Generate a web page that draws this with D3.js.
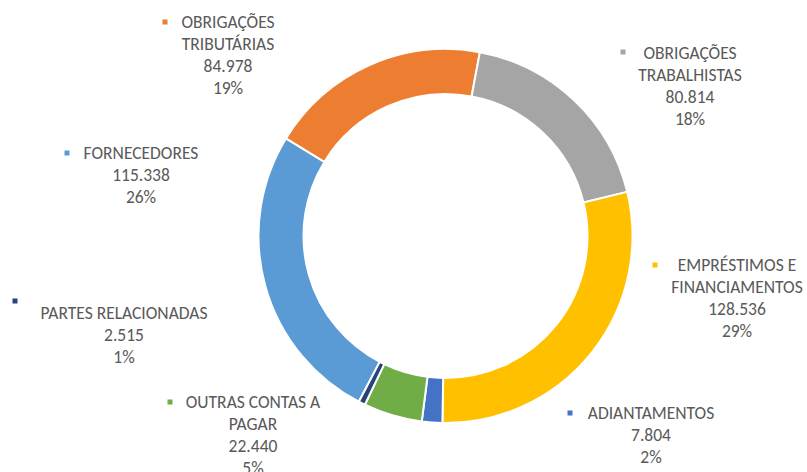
<!DOCTYPE html>
<meta charset="utf-8">
<style>
body { margin: 0; background: #fff; }
text { font-family: Carlito, Calibri, Lato, sans-serif; fill: #595959; }
</style>
<svg width="807" height="472"></svg>
<script src="https://d3js.org/d3.v7.min.js"></script>
<script>
// data (Excel order, drawn clockwise)
var categories = ["FORNECEDORES", "OBRIGAÇÕES TRIBUTÁRIAS", "OBRIGAÇÕES TRABALHISTAS",
  "EMPRÉSTIMOS E FINANCIAMENTOS", "ADIANTAMENTOS", "OUTRAS CONTAS A PAGAR", "PARTES RELACIONADAS"];
var values = [115338, 84978, 80814, 128536, 7804, 22440, 2515];
var valueLabels = ["115.338", "84.978", "80.814", "128.536", "7.804", "22.440", "2.515"];
var pctLabels = ["26%", "19%", "18%", "29%", "2%", "5%", "1%"];
var nameLines = [["FORNECEDORES"], ["OBRIGAÇÕES", "TRIBUTÁRIAS"], ["OBRIGAÇÕES", "TRABALHISTAS"],
  ["EMPRÉSTIMOS E", "FINANCIAMENTOS"], ["ADIANTAMENTOS"], ["OUTRAS CONTAS A", "PAGAR"], ["PARTES RELACIONADAS"]];

var colors = ["#5b9bd5", "#ed7d31", "#a5a5a5", "#ffc000", "#4472c4", "#70ad47", "#264478"];

// label layout: text centre x, first line y, key square x, key y
var labelLayout = [
  {x: 141, y: 153, kx: 67, ky: 153},
  {x: 228, y: 22, kx: 165, ky: 22},
  {x: 690, y: 53, kx: 623, ky: 52},
  {x: 737, y: 265, kx: 655, ky: 265},
  {x: 651, y: 413, kx: 570, ky: 413},
  {x: 253, y: 402, kx: 170, ky: 402},
  {x: 124, y: 313, kx: 15, ky: 301}
];

var svg = d3.select("svg"),
    cx = 445.5, cy = 236,
    outerR = 187, innerR = 142,
    lineH = 22;

var pie = d3.pie().sort(null).value(function(d) { return d; })
    .startAngle(207.6 * Math.PI / 180)
    .endAngle((207.6 + 360) * Math.PI / 180);

var arc = d3.arc().innerRadius(innerR).outerRadius(outerR);

var g = svg.append("g").attr("transform", "translate(" + cx + "," + cy + ")");

g.selectAll("path")
  .data(pie(values))
  .enter().append("path")
    .attr("d", arc)
    .attr("fill", function(d, i) { return colors[i]; })
    .attr("stroke", "#fff")
    .attr("stroke-width", 2)
    .attr("stroke-linejoin", "round");

var labels = svg.selectAll("g.lbl")
  .data(categories)
  .enter().append("g")
    .attr("class", "lbl");

labels.append("rect")
    .attr("x", function(d, i) { return labelLayout[i].kx - 2.5; })
    .attr("y", function(d, i) { return labelLayout[i].ky - 2.5; })
    .attr("width", 5)
    .attr("height", 5)
    .attr("fill", function(d, i) { return colors[i]; });

labels.each(function(d, i) {
  var lines = nameLines[i].concat([valueLabels[i], pctLabels[i]]);
  var L = labelLayout[i];
  d3.select(this).selectAll("text")
    .data(lines)
    .enter().append("text")
      .attr("x", L.x)
      .attr("y", function(t, j) { return L.y + j * lineH; })
      .attr("dy", "0.36em")
      .attr("text-anchor", "middle")
      .style("font-size", "17.5px")
      .text(function(t) { return t; });
});
</script>
